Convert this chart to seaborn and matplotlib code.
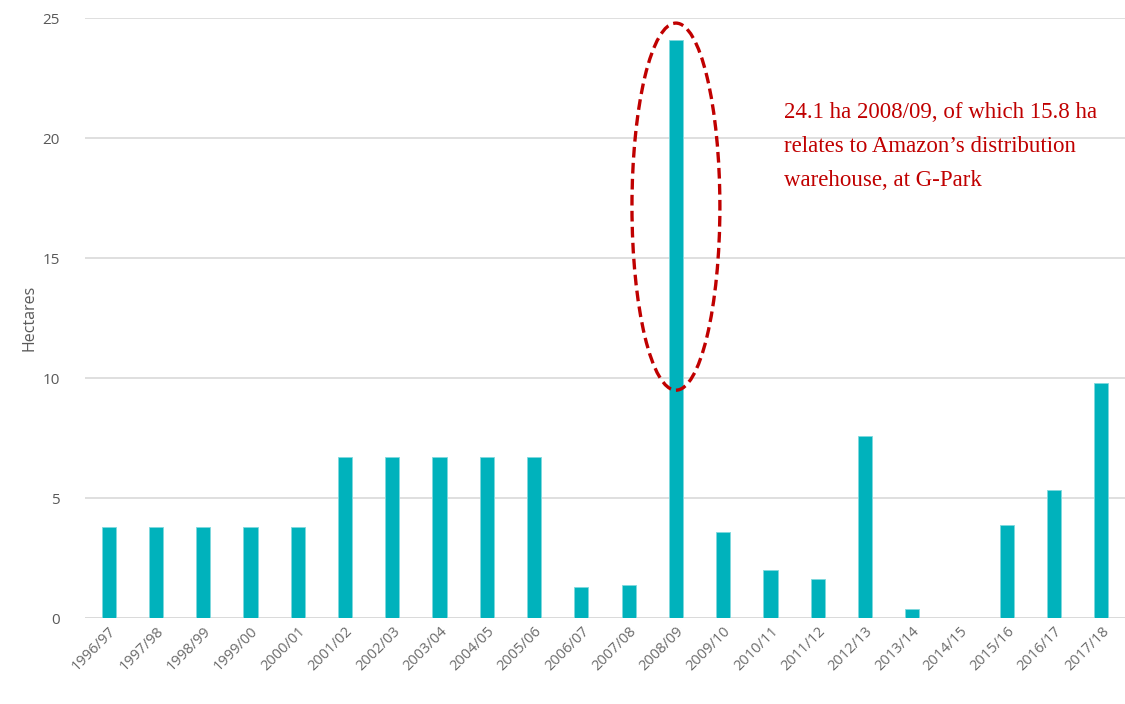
import matplotlib
matplotlib.use("Agg")
import matplotlib.pyplot as plt
from matplotlib.patches import Ellipse
import seaborn as sns
import pandas as pd

years = ["1996/97", "1997/98", "1998/99", "1999/00", "2000/01", "2001/02", "2002/03",
         "2003/04", "2004/05", "2005/06", "2006/07", "2007/08", "2008/09", "2009/10",
         "2010/11", "2011/12", "2012/13", "2013/14", "2014/15", "2015/16", "2016/17",
         "2017/18"]
hectares = [3.8, 3.8, 3.8, 3.8, 3.8, 6.7, 6.7, 6.7, 6.7, 6.7, 1.3, 1.4, 24.1, 3.6,
            2.0, 1.65, 7.6, 0.4, 0.0, 3.9, 5.35, 9.8]
yticks = [0, 5, 10, 15, 20, 25]
note = "24.1 ha 2008/09, of which 15.8 ha\nrelates to Amazon\u2019s distribution\nwarehouse, at G-Park"
highlight = "2008/09"

df = pd.DataFrame({"year": years, "ha": hectares})

sns.set_style("white")
plt.rcParams["font.family"] = ["Open Sans", "DejaVu Sans"]

fig = plt.figure(figsize=(11.25, 7.04), dpi=100)
ax = fig.add_axes([0.0756, 0.122, 0.9244, 0.852])

sns.barplot(data=df, x="year", y="ha", color="#00B2BC", width=0.3, saturation=1,
            ax=ax, edgecolor="#7fd9de", linewidth=0.6, zorder=3)

ax.set_ylim(0, 25)
ax.set_xlim(-0.5, len(years) - 0.5)
ax.set_yticks(yticks)
ax.yaxis.grid(True, color="#d9d9d9", linewidth=1.2, zorder=0)
ax.xaxis.grid(False)
for s in ax.spines.values():
    s.set_visible(False)
ax.axhline(0, color="#d9d9d9", linewidth=1.2, zorder=1)

ax.tick_params(axis="y", length=0, pad=18, labelsize=11, labelcolor="#595959")
ax.tick_params(axis="x", length=0, pad=4, labelsize=10.5, labelcolor="#6a6a6a")
plt.setp(ax.get_xticklabels(), rotation=45, ha="right", rotation_mode="anchor")
ax.set_xlabel("")
ax.set_ylabel("Hectares", fontsize=11.5, color="#595959", labelpad=4)

hi = years.index(highlight)
ell = Ellipse((hi, 17.15), width=1.86, height=15.3, fill=False, edgecolor="#C00000",
              linestyle=(0, (3.2, 1.6)), linewidth=2.4, zorder=5)
ax.add_patch(ell)

ax.text(14.28, 21.5, note, color="#C00000", fontsize=16.5, va="top", ha="left",
        family=["Liberation Serif", "DejaVu Serif"], linespacing=1.8)

fig.savefig("out.png", dpi=100)
